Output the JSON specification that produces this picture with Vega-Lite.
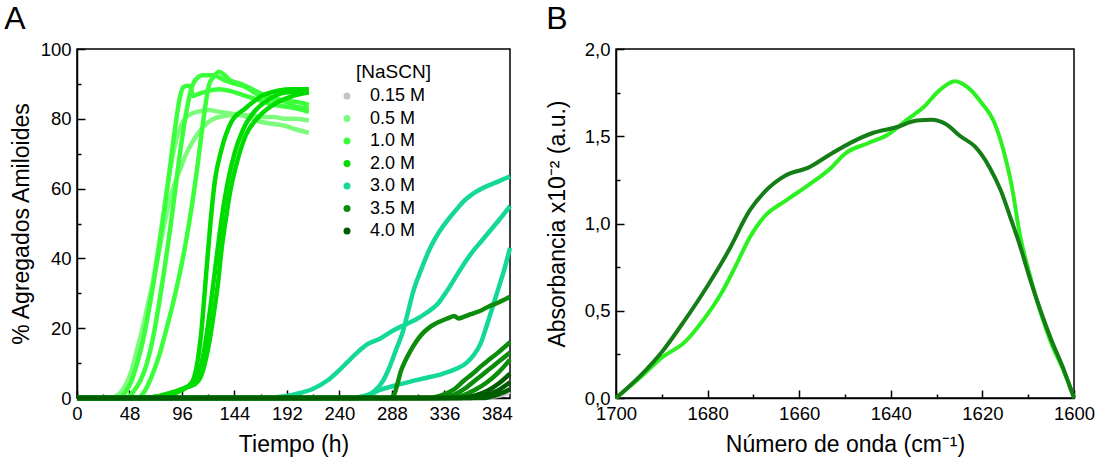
{
  "$schema": "https://vega.github.io/schema/vega-lite/v6.json",
  "padding": {"left": 3, "top": 2, "right": 3, "bottom": 2},
  "spacing": 25,
  "config": {
    "font": "Liberation Sans",
    "view": {"stroke": "black", "strokeWidth": 1.5},
    "axis": {"grid": false, "domainColor": "black", "domainWidth": 1.5, "tickColor": "black", "tickWidth": 1.5, "labelColor": "black", "labelFontSize": 18.5, "labelFont": "Liberation Sans", "titleFont": "Liberation Sans", "titleFontSize": 23, "titleFontWeight": "normal", "titleColor": "black", "labelPadding": 14, "titlePadding": 7, "labelOverlap": false, "labelFlush": false},
    "title": {"fontSize": 32, "fontWeight": "normal", "anchor": "start", "frame": "bounds", "color": "black", "font": "Liberation Sans", "offset": 0}
  },
  "datasets": {
    "kin": [
      {"c":"0.15 M","r":"g1","t":0,"v":0},{"c":"0.15 M","r":"g1","t":360,"v":0},{"c":"0.15 M","r":"g1","t":378,"v":0.3},{"c":"0.15 M","r":"g1","t":388,"v":0.8},{"c":"0.15 M","r":"g1","t":396,"v":1.8},

      {"c":"0.5 M","r":"a5","t":0,"v":0},{"c":"0.5 M","r":"a5","t":30,"v":0},{"c":"0.5 M","r":"a5","t":38,"v":1},{"c":"0.5 M","r":"a5","t":45,"v":4},{"c":"0.5 M","r":"a5","t":50,"v":8},{"c":"0.5 M","r":"a5","t":55,"v":14},{"c":"0.5 M","r":"a5","t":60,"v":20},{"c":"0.5 M","r":"a5","t":65,"v":27},{"c":"0.5 M","r":"a5","t":70,"v":34},{"c":"0.5 M","r":"a5","t":75,"v":42},{"c":"0.5 M","r":"a5","t":80,"v":50},{"c":"0.5 M","r":"a5","t":85,"v":57},{"c":"0.5 M","r":"a5","t":90,"v":62},{"c":"0.5 M","r":"a5","t":95,"v":66},{"c":"0.5 M","r":"a5","t":100,"v":70},{"c":"0.5 M","r":"a5","t":105,"v":73},{"c":"0.5 M","r":"a5","t":110,"v":75.5},{"c":"0.5 M","r":"a5","t":115,"v":77.5},{"c":"0.5 M","r":"a5","t":120,"v":79},{"c":"0.5 M","r":"a5","t":125,"v":80},{"c":"0.5 M","r":"a5","t":130,"v":80.5},{"c":"0.5 M","r":"a5","t":140,"v":81},{"c":"0.5 M","r":"a5","t":150,"v":81},{"c":"0.5 M","r":"a5","t":160,"v":81},{"c":"0.5 M","r":"a5","t":170,"v":80.5},{"c":"0.5 M","r":"a5","t":180,"v":80.5},{"c":"0.5 M","r":"a5","t":190,"v":80},{"c":"0.5 M","r":"a5","t":200,"v":80},{"c":"0.5 M","r":"a5","t":212,"v":79.5},

      {"c":"0.5 M","r":"b5","t":0,"v":0},{"c":"0.5 M","r":"b5","t":35,"v":0},{"c":"0.5 M","r":"b5","t":42,"v":2},{"c":"0.5 M","r":"b5","t":48,"v":5},{"c":"0.5 M","r":"b5","t":55,"v":11},{"c":"0.5 M","r":"b5","t":60,"v":17},{"c":"0.5 M","r":"b5","t":65,"v":25},{"c":"0.5 M","r":"b5","t":70,"v":34},{"c":"0.5 M","r":"b5","t":75,"v":44},{"c":"0.5 M","r":"b5","t":80,"v":55},{"c":"0.5 M","r":"b5","t":85,"v":65},{"c":"0.5 M","r":"b5","t":90,"v":73},{"c":"0.5 M","r":"b5","t":95,"v":78},{"c":"0.5 M","r":"b5","t":100,"v":80.5},{"c":"0.5 M","r":"b5","t":105,"v":81.5},{"c":"0.5 M","r":"b5","t":110,"v":82},{"c":"0.5 M","r":"b5","t":120,"v":82.5},{"c":"0.5 M","r":"b5","t":130,"v":82},{"c":"0.5 M","r":"b5","t":140,"v":81.5},{"c":"0.5 M","r":"b5","t":150,"v":81},{"c":"0.5 M","r":"b5","t":160,"v":80},{"c":"0.5 M","r":"b5","t":170,"v":79},{"c":"0.5 M","r":"b5","t":180,"v":78.5},{"c":"0.5 M","r":"b5","t":190,"v":78},{"c":"0.5 M","r":"b5","t":200,"v":77},{"c":"0.5 M","r":"b5","t":212,"v":76},

      {"c":"1.0 M","r":"a1","t":0,"v":0},{"c":"1.0 M","r":"a1","t":38,"v":0},{"c":"1.0 M","r":"a1","t":45,"v":2},{"c":"1.0 M","r":"a1","t":50,"v":5},{"c":"1.0 M","r":"a1","t":55,"v":10},{"c":"1.0 M","r":"a1","t":60,"v":16},{"c":"1.0 M","r":"a1","t":65,"v":24},{"c":"1.0 M","r":"a1","t":70,"v":33},{"c":"1.0 M","r":"a1","t":75,"v":43},{"c":"1.0 M","r":"a1","t":80,"v":54},{"c":"1.0 M","r":"a1","t":85,"v":66},{"c":"1.0 M","r":"a1","t":90,"v":78},{"c":"1.0 M","r":"a1","t":94,"v":86},{"c":"1.0 M","r":"a1","t":97,"v":89},{"c":"1.0 M","r":"a1","t":101,"v":89.5},{"c":"1.0 M","r":"a1","t":104,"v":89},{"c":"1.0 M","r":"a1","t":106,"v":86.5},{"c":"1.0 M","r":"a1","t":110,"v":87},{"c":"1.0 M","r":"a1","t":115,"v":87.5},{"c":"1.0 M","r":"a1","t":120,"v":88},{"c":"1.0 M","r":"a1","t":130,"v":88.5},{"c":"1.0 M","r":"a1","t":140,"v":88},{"c":"1.0 M","r":"a1","t":150,"v":87},{"c":"1.0 M","r":"a1","t":160,"v":86},{"c":"1.0 M","r":"a1","t":170,"v":85},{"c":"1.0 M","r":"a1","t":180,"v":84},{"c":"1.0 M","r":"a1","t":190,"v":83.5},{"c":"1.0 M","r":"a1","t":200,"v":83},{"c":"1.0 M","r":"a1","t":212,"v":82},

      {"c":"1.0 M","r":"b1","t":0,"v":0},{"c":"1.0 M","r":"b1","t":45,"v":0},{"c":"1.0 M","r":"b1","t":52,"v":2},{"c":"1.0 M","r":"b1","t":58,"v":5},{"c":"1.0 M","r":"b1","t":64,"v":10},{"c":"1.0 M","r":"b1","t":70,"v":18},{"c":"1.0 M","r":"b1","t":75,"v":27},{"c":"1.0 M","r":"b1","t":80,"v":37},{"c":"1.0 M","r":"b1","t":85,"v":48},{"c":"1.0 M","r":"b1","t":90,"v":60},{"c":"1.0 M","r":"b1","t":95,"v":72},{"c":"1.0 M","r":"b1","t":100,"v":82},{"c":"1.0 M","r":"b1","t":104,"v":88},{"c":"1.0 M","r":"b1","t":108,"v":91},{"c":"1.0 M","r":"b1","t":115,"v":92.5},{"c":"1.0 M","r":"b1","t":125,"v":92.5},{"c":"1.0 M","r":"b1","t":135,"v":91},{"c":"1.0 M","r":"b1","t":145,"v":90},{"c":"1.0 M","r":"b1","t":155,"v":89},{"c":"1.0 M","r":"b1","t":165,"v":87},{"c":"1.0 M","r":"b1","t":175,"v":86},{"c":"1.0 M","r":"b1","t":185,"v":85},{"c":"1.0 M","r":"b1","t":195,"v":85},{"c":"1.0 M","r":"b1","t":212,"v":84},

      {"c":"1.0 M","r":"c1","t":0,"v":0},{"c":"1.0 M","r":"c1","t":55,"v":0},{"c":"1.0 M","r":"c1","t":62,"v":2},{"c":"1.0 M","r":"c1","t":68,"v":6},{"c":"1.0 M","r":"c1","t":75,"v":12},{"c":"1.0 M","r":"c1","t":82,"v":20},{"c":"1.0 M","r":"c1","t":90,"v":30},{"c":"1.0 M","r":"c1","t":98,"v":42},{"c":"1.0 M","r":"c1","t":105,"v":55},{"c":"1.0 M","r":"c1","t":110,"v":66},{"c":"1.0 M","r":"c1","t":114,"v":76},{"c":"1.0 M","r":"c1","t":118,"v":85},{"c":"1.0 M","r":"c1","t":121,"v":90},{"c":"1.0 M","r":"c1","t":125,"v":92},{"c":"1.0 M","r":"c1","t":130,"v":93.5},{"c":"1.0 M","r":"c1","t":135,"v":92.5},{"c":"1.0 M","r":"c1","t":140,"v":91},{"c":"1.0 M","r":"c1","t":150,"v":90},{"c":"1.0 M","r":"c1","t":160,"v":88.5},{"c":"1.0 M","r":"c1","t":170,"v":87},{"c":"1.0 M","r":"c1","t":180,"v":86},{"c":"1.0 M","r":"c1","t":190,"v":85},{"c":"1.0 M","r":"c1","t":200,"v":83.5},{"c":"1.0 M","r":"c1","t":212,"v":83},

      {"c":"2.0 M","r":"a2","t":0,"v":0},{"c":"2.0 M","r":"a2","t":60,"v":0},{"c":"2.0 M","r":"a2","t":75,"v":0.5},{"c":"2.0 M","r":"a2","t":90,"v":1.5},{"c":"2.0 M","r":"a2","t":100,"v":3},{"c":"2.0 M","r":"a2","t":106,"v":5},{"c":"2.0 M","r":"a2","t":110,"v":10},{"c":"2.0 M","r":"a2","t":114,"v":20},{"c":"2.0 M","r":"a2","t":118,"v":35},{"c":"2.0 M","r":"a2","t":122,"v":50},{"c":"2.0 M","r":"a2","t":126,"v":62},{"c":"2.0 M","r":"a2","t":132,"v":71},{"c":"2.0 M","r":"a2","t":141,"v":79},{"c":"2.0 M","r":"a2","t":154,"v":83},{"c":"2.0 M","r":"a2","t":172,"v":87},{"c":"2.0 M","r":"a2","t":197,"v":88.5},{"c":"2.0 M","r":"a2","t":212,"v":88.5},

      {"c":"2.0 M","r":"b2","t":0,"v":0},{"c":"2.0 M","r":"b2","t":60,"v":0},{"c":"2.0 M","r":"b2","t":75,"v":0.5},{"c":"2.0 M","r":"b2","t":90,"v":1.5},{"c":"2.0 M","r":"b2","t":100,"v":3},{"c":"2.0 M","r":"b2","t":108,"v":4},{"c":"2.0 M","r":"b2","t":113,"v":6},{"c":"2.0 M","r":"b2","t":117,"v":10},{"c":"2.0 M","r":"b2","t":121,"v":16},{"c":"2.0 M","r":"b2","t":125,"v":24},{"c":"2.0 M","r":"b2","t":129,"v":33},{"c":"2.0 M","r":"b2","t":132,"v":42},{"c":"2.0 M","r":"b2","t":136,"v":51},{"c":"2.0 M","r":"b2","t":140,"v":59},{"c":"2.0 M","r":"b2","t":145,"v":66},{"c":"2.0 M","r":"b2","t":154,"v":75},{"c":"2.0 M","r":"b2","t":166,"v":80.5},{"c":"2.0 M","r":"b2","t":182,"v":84.5},{"c":"2.0 M","r":"b2","t":197,"v":86.5},{"c":"2.0 M","r":"b2","t":212,"v":87.5},

      {"c":"2.0 M","r":"c2","t":0,"v":0},{"c":"2.0 M","r":"c2","t":65,"v":0},{"c":"2.0 M","r":"c2","t":80,"v":1},{"c":"2.0 M","r":"c2","t":95,"v":2.5},{"c":"2.0 M","r":"c2","t":105,"v":4},{"c":"2.0 M","r":"c2","t":110,"v":6},{"c":"2.0 M","r":"c2","t":114,"v":10},{"c":"2.0 M","r":"c2","t":118,"v":17},{"c":"2.0 M","r":"c2","t":122,"v":26},{"c":"2.0 M","r":"c2","t":126,"v":36},{"c":"2.0 M","r":"c2","t":130,"v":46},{"c":"2.0 M","r":"c2","t":134,"v":55},{"c":"2.0 M","r":"c2","t":138,"v":62},{"c":"2.0 M","r":"c2","t":144,"v":70},{"c":"2.0 M","r":"c2","t":152,"v":77},{"c":"2.0 M","r":"c2","t":162,"v":82},{"c":"2.0 M","r":"c2","t":175,"v":85.5},{"c":"2.0 M","r":"c2","t":190,"v":87.5},{"c":"2.0 M","r":"c2","t":212,"v":88},

      {"c":"3.0 M","r":"a3","t":0,"v":0},{"c":"3.0 M","r":"a3","t":170,"v":0},{"c":"3.0 M","r":"a3","t":190,"v":0.5},{"c":"3.0 M","r":"a3","t":205,"v":1.5},{"c":"3.0 M","r":"a3","t":215,"v":2.5},{"c":"3.0 M","r":"a3","t":229,"v":5},{"c":"3.0 M","r":"a3","t":240,"v":8},{"c":"3.0 M","r":"a3","t":248,"v":10.5},{"c":"3.0 M","r":"a3","t":258,"v":13.5},{"c":"3.0 M","r":"a3","t":266,"v":15.5},{"c":"3.0 M","r":"a3","t":277,"v":17},{"c":"3.0 M","r":"a3","t":290,"v":19.5},{"c":"3.0 M","r":"a3","t":300,"v":21},{"c":"3.0 M","r":"a3","t":310,"v":22.5},{"c":"3.0 M","r":"a3","t":320,"v":24.5},{"c":"3.0 M","r":"a3","t":330,"v":27},{"c":"3.0 M","r":"a3","t":338,"v":30.5},{"c":"3.0 M","r":"a3","t":346,"v":34.5},{"c":"3.0 M","r":"a3","t":354,"v":38.5},{"c":"3.0 M","r":"a3","t":362,"v":42},{"c":"3.0 M","r":"a3","t":370,"v":45},{"c":"3.0 M","r":"a3","t":378,"v":48},{"c":"3.0 M","r":"a3","t":386,"v":51},{"c":"3.0 M","r":"a3","t":396,"v":55},

      {"c":"3.0 M","r":"b3","t":0,"v":0},{"c":"3.0 M","r":"b3","t":250,"v":0},{"c":"3.0 M","r":"b3","t":262,"v":0.5},{"c":"3.0 M","r":"b3","t":272,"v":2},{"c":"3.0 M","r":"b3","t":280,"v":5},{"c":"3.0 M","r":"b3","t":286,"v":9},{"c":"3.0 M","r":"b3","t":292,"v":14},{"c":"3.0 M","r":"b3","t":298,"v":19},{"c":"3.0 M","r":"b3","t":303,"v":25},{"c":"3.0 M","r":"b3","t":307,"v":30},{"c":"3.0 M","r":"b3","t":315,"v":37},{"c":"3.0 M","r":"b3","t":323,"v":43},{"c":"3.0 M","r":"b3","t":331,"v":47.5},{"c":"3.0 M","r":"b3","t":339,"v":51},{"c":"3.0 M","r":"b3","t":347,"v":54},{"c":"3.0 M","r":"b3","t":354,"v":56.5},{"c":"3.0 M","r":"b3","t":362,"v":58.5},{"c":"3.0 M","r":"b3","t":369,"v":59.8},{"c":"3.0 M","r":"b3","t":377,"v":61},{"c":"3.0 M","r":"b3","t":385,"v":62},{"c":"3.0 M","r":"b3","t":396,"v":63.5},

      {"c":"3.0 M","r":"c3","t":0,"v":0},{"c":"3.0 M","r":"c3","t":255,"v":0},{"c":"3.0 M","r":"c3","t":265,"v":0.5},{"c":"3.0 M","r":"c3","t":277,"v":2.3},{"c":"3.0 M","r":"c3","t":290,"v":3.5},{"c":"3.0 M","r":"c3","t":305,"v":4.7},{"c":"3.0 M","r":"c3","t":320,"v":5.8},{"c":"3.0 M","r":"c3","t":335,"v":7},{"c":"3.0 M","r":"c3","t":348,"v":8.5},{"c":"3.0 M","r":"c3","t":356,"v":10},{"c":"3.0 M","r":"c3","t":362,"v":12},{"c":"3.0 M","r":"c3","t":369,"v":15.5},{"c":"3.0 M","r":"c3","t":375,"v":21},{"c":"3.0 M","r":"c3","t":381,"v":27},{"c":"3.0 M","r":"c3","t":386,"v":32},{"c":"3.0 M","r":"c3","t":390,"v":36},{"c":"3.0 M","r":"c3","t":396,"v":43},

      {"c":"3.5 M","r":"a35","t":0,"v":0},{"c":"3.5 M","r":"a35","t":286,"v":0},{"c":"3.5 M","r":"a35","t":290,"v":1},{"c":"3.5 M","r":"a35","t":293,"v":4},{"c":"3.5 M","r":"a35","t":296,"v":7.5},{"c":"3.5 M","r":"a35","t":300,"v":10.5},{"c":"3.5 M","r":"a35","t":305,"v":13.5},{"c":"3.5 M","r":"a35","t":311,"v":16.5},{"c":"3.5 M","r":"a35","t":317,"v":18.8},{"c":"3.5 M","r":"a35","t":323,"v":20.4},{"c":"3.5 M","r":"a35","t":331,"v":21.8},{"c":"3.5 M","r":"a35","t":339,"v":22.8},{"c":"3.5 M","r":"a35","t":345,"v":23.5},{"c":"3.5 M","r":"a35","t":349,"v":22.8},{"c":"3.5 M","r":"a35","t":353,"v":23.2},{"c":"3.5 M","r":"a35","t":360,"v":24},{"c":"3.5 M","r":"a35","t":369,"v":25},{"c":"3.5 M","r":"a35","t":377,"v":26.3},{"c":"3.5 M","r":"a35","t":385,"v":27.3},{"c":"3.5 M","r":"a35","t":396,"v":29},

      {"c":"3.5 M","r":"b35","t":0,"v":0},{"c":"3.5 M","r":"b35","t":320,"v":0},{"c":"3.5 M","r":"b35","t":335,"v":1},{"c":"3.5 M","r":"b35","t":345,"v":2.5},{"c":"3.5 M","r":"b35","t":354,"v":5},{"c":"3.5 M","r":"b35","t":362,"v":7},{"c":"3.5 M","r":"b35","t":369,"v":9},{"c":"3.5 M","r":"b35","t":377,"v":11},{"c":"3.5 M","r":"b35","t":385,"v":13},{"c":"3.5 M","r":"b35","t":396,"v":16},
      {"c":"3.5 M","r":"c35","t":0,"v":0},{"c":"3.5 M","r":"c35","t":330,"v":0},{"c":"3.5 M","r":"c35","t":345,"v":1},{"c":"3.5 M","r":"c35","t":356,"v":3},{"c":"3.5 M","r":"c35","t":366,"v":5.5},{"c":"3.5 M","r":"c35","t":376,"v":8},{"c":"3.5 M","r":"c35","t":386,"v":10.5},{"c":"3.5 M","r":"c35","t":396,"v":13},
      {"c":"3.5 M","r":"d35","t":0,"v":0},{"c":"3.5 M","r":"d35","t":340,"v":0},{"c":"3.5 M","r":"d35","t":355,"v":1},{"c":"3.5 M","r":"d35","t":365,"v":2.5},{"c":"3.5 M","r":"d35","t":375,"v":4.5},{"c":"3.5 M","r":"d35","t":386,"v":7.5},{"c":"3.5 M","r":"d35","t":396,"v":11},

      {"c":"4.0 M","r":"a4","t":0,"v":0},{"c":"4.0 M","r":"a4","t":350,"v":0},{"c":"4.0 M","r":"a4","t":365,"v":0.8},{"c":"4.0 M","r":"a4","t":375,"v":2},{"c":"4.0 M","r":"a4","t":385,"v":4},{"c":"4.0 M","r":"a4","t":396,"v":7},
      {"c":"4.0 M","r":"b4","t":0,"v":0},{"c":"4.0 M","r":"b4","t":360,"v":0},{"c":"4.0 M","r":"b4","t":372,"v":0.7},{"c":"4.0 M","r":"b4","t":384,"v":2},{"c":"4.0 M","r":"b4","t":396,"v":4.5},
      {"c":"4.0 M","r":"c4","t":0,"v":0},{"c":"4.0 M","r":"c4","t":370,"v":0},{"c":"4.0 M","r":"c4","t":385,"v":1},{"c":"4.0 M","r":"c4","t":396,"v":2.5}
    ],
    "ftir": [
      {"s":"L","w":1700,"a":0},{"s":"L","w":1694.6,"a":0.12},{"s":"L","w":1689.8,"a":0.235},{"s":"L","w":1685,"a":0.32},{"s":"L","w":1681,"a":0.445},{"s":"L","w":1677,"a":0.6},{"s":"L","w":1674,"a":0.75},{"s":"L","w":1670.8,"a":0.92},{"s":"L","w":1667.6,"a":1.04},{"s":"L","w":1663,"a":1.13},{"s":"L","w":1658,"a":1.22},{"s":"L","w":1653,"a":1.32},{"s":"L","w":1650,"a":1.4},{"s":"L","w":1645,"a":1.46},{"s":"L","w":1640.6,"a":1.51},{"s":"L","w":1636.7,"a":1.59},{"s":"L","w":1632.7,"a":1.67},{"s":"L","w":1629.5,"a":1.76},{"s":"L","w":1626,"a":1.815},{"s":"L","w":1623.2,"a":1.78},{"s":"L","w":1620,"a":1.685},{"s":"L","w":1617.6,"a":1.59},{"s":"L","w":1615.2,"a":1.4},{"s":"L","w":1613.7,"a":1.23},{"s":"L","w":1611.7,"a":0.92},{"s":"L","w":1609.7,"a":0.71},{"s":"L","w":1607.3,"a":0.49},{"s":"L","w":1604.9,"a":0.31},{"s":"L","w":1602.5,"a":0.17},{"s":"L","w":1600,"a":0},
      {"s":"D","w":1700,"a":0},{"s":"D","w":1694.6,"a":0.13},{"s":"D","w":1689.8,"a":0.27},{"s":"D","w":1685,"a":0.445},{"s":"D","w":1680.2,"a":0.635},{"s":"D","w":1675.4,"a":0.845},{"s":"D","w":1670.8,"a":1.075},{"s":"D","w":1667.6,"a":1.18},{"s":"D","w":1663,"a":1.275},{"s":"D","w":1658,"a":1.32},{"s":"D","w":1653,"a":1.4},{"s":"D","w":1648.6,"a":1.465},{"s":"D","w":1643.8,"a":1.52},{"s":"D","w":1639,"a":1.55},{"s":"D","w":1634.3,"a":1.59},{"s":"D","w":1631,"a":1.595},{"s":"D","w":1628,"a":1.57},{"s":"D","w":1624.8,"a":1.5},{"s":"D","w":1621.6,"a":1.44},{"s":"D","w":1618.4,"a":1.32},{"s":"D","w":1616,"a":1.19},{"s":"D","w":1613.7,"a":1.02},{"s":"D","w":1611.7,"a":0.865},{"s":"D","w":1609.7,"a":0.69},{"s":"D","w":1607.3,"a":0.5},{"s":"D","w":1604.9,"a":0.33},{"s":"D","w":1602.5,"a":0.18},{"s":"D","w":1600,"a":0}
    ]
  },
  "hconcat": [
    {
      "width": 433,
      "height": 349,
      "title": {"text": "A", "dx": -6},
      "data": {"name": "kin"},
      "mark": {"type": "line", "strokeWidth": 4.5, "interpolate": "monotone"},
      "encoding": {
        "x": {"field": "t", "type": "quantitative", "scale": {"domain": [0, 396], "nice": false},
          "axis": {"title": "Tiempo (h)", "values": [0,24,48,72,96,120,144,168,192,216,240,264,288,312,336,360,384],
            "labelExpr": "datum.value % 48 === 0 ? datum.label : ''",
            "tickSize": {"condition": {"test": "datum.value % 48 === 0", "value": -8}, "value": -4}}},
        "y": {"field": "v", "type": "quantitative", "scale": {"domain": [0, 100], "nice": false},
          "axis": {"title": "% Agregados Amiloides", "values": [0,10,20,30,40,50,60,70,80,90,100],
            "labelExpr": "datum.value % 20 === 0 ? datum.label : ''",
            "tickSize": {"condition": {"test": "datum.value % 20 === 0", "value": -8}, "value": -4}}},
        "color": {"field": "c", "type": "nominal",
          "scale": {"domain": ["0.15 M","0.5 M","1.0 M","2.0 M","3.0 M","3.5 M","4.0 M"],
                    "range": ["#c4c4c4","#7dfb7d","#3cff3c","#00dc00","#14d898","#0b8c0b","#005c00"]},
          "legend": {"orient": "none", "legendX": 261, "legendY": 14, "title": "[NaSCN]",
            "titleFontSize": 19, "titleFontWeight": "normal", "titleColor": "black", "titleFont": "Liberation Sans",
            "labelFontSize": 18, "labelColor": "black", "labelFont": "Liberation Sans",
            "symbolType": "circle", "symbolSize": 49, "symbolStrokeWidth": 0, "rowPadding": 4.5, "labelOffset": 14, "titlePadding": 5, "padding": 0,
            "encode": {
              "title": {"update": {"dx": {"value": 18}}},
              "symbols": {"update": {"fill": {"signal": "['#c4c4c4','#7dfb7d','#3cff3c','#00dc00','#14d898','#0b8c0b','#005c00'][indexof(['0.15 M','0.5 M','1.0 M','2.0 M','3.0 M','3.5 M','4.0 M'], datum.value)]"}, "strokeWidth": {"value": 0}}}
            }}},
        "detail": {"field": "r"}
      }
    },
    {
      "width": 458,
      "height": 349,
      "title": {"text": "B"},
      "data": {"name": "ftir"},
      "encoding": {
        "x": {"field": "w", "type": "quantitative", "scale": {"domain": [1600, 1700], "reverse": true, "nice": false},
          "axis": {"title": "Número de onda (cm⁻¹)", "values": [1600,1610,1620,1630,1640,1650,1660,1670,1680,1690,1700],
            "labelExpr": "datum.value % 20 === 0 ? format(datum.value, 'd') : ''",
            "tickSize": {"condition": {"test": "datum.value % 20 === 0", "value": -8}, "value": -4}}},
        "y": {"field": "a", "type": "quantitative", "scale": {"domain": [0, 2], "nice": false},
          "axis": {"title": "Absorbancia x10⁻² (a.u.)", "titlePadding": 15, "values": [0,0.25,0.5,0.75,1,1.25,1.5,1.75,2],
            "labelExpr": "round(datum.value * 4) % 2 === 0 ? replace(format(datum.value, '.1f'), '.', ',') : ''",
            "tickSize": {"condition": {"test": "round(datum.value * 4) % 2 === 0", "value": -8}, "value": -4}}}
      },
      "layer": [
        {"transform": [{"filter": "datum.s === 'L'"}], "mark": {"type": "line", "color": "#2cf020", "strokeWidth": 4, "interpolate": "monotone"}},
        {"transform": [{"filter": "datum.s === 'D'"}], "mark": {"type": "line", "color": "#157d15", "strokeWidth": 4, "interpolate": "monotone"}}
      ]
    }
  ]
}
